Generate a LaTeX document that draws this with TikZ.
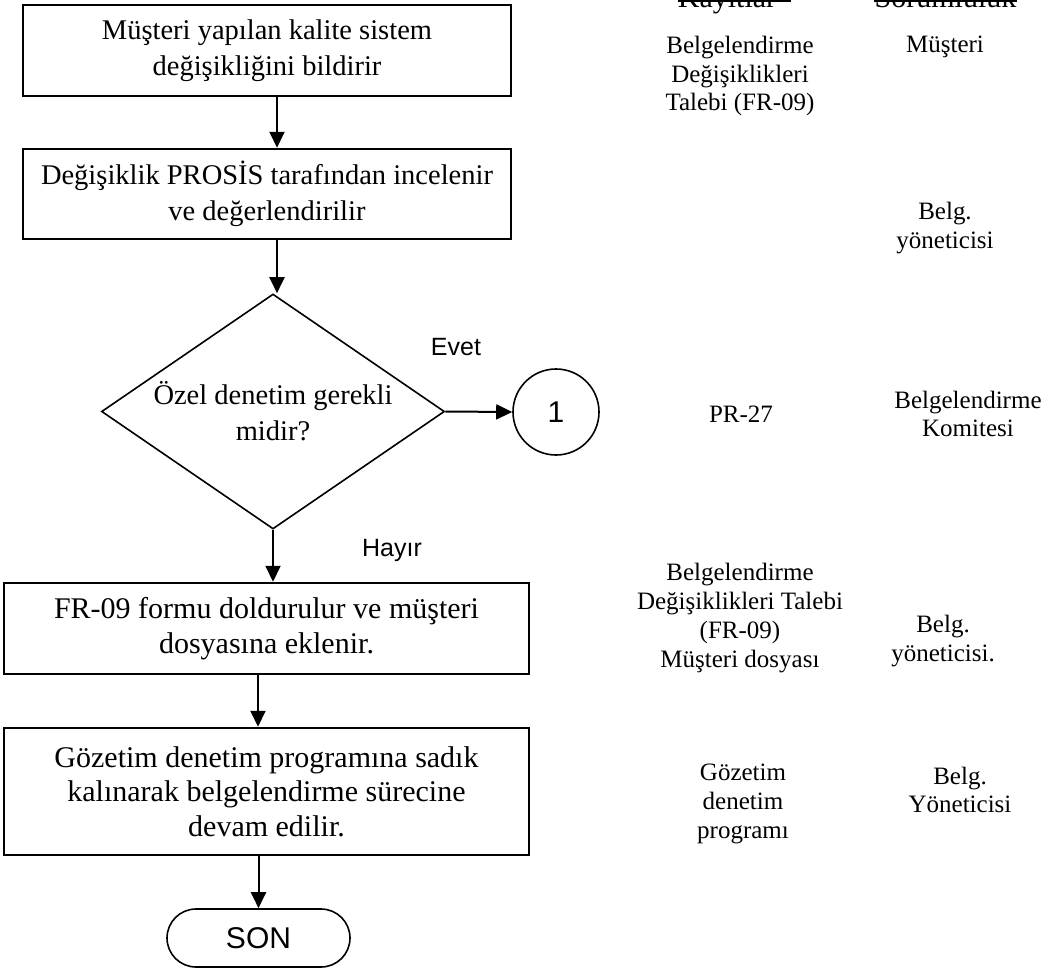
\documentclass[tikz,border=0pt]{standalone}
\usepackage{fontspec}
\setmainfont{Liberation Serif}
\newfontfamily\arialf{Liberation Sans}
\usetikzlibrary{arrows.meta,shapes.geometric}
\tikzset{
  box/.style={draw,line width=2.5pt,inner sep=0pt,align=center,
    font=\fontsize{28.5}{36}\selectfont},
  boxb/.style={box,font=\fontsize{30}{34.5}\selectfont},
  arr/.style={line width=2pt,-{Triangle[length=16pt,width=15pt]}},
  rtext/.style={inner sep=0pt,align=center,font=\fontsize{25}{28.75}\selectfont},
  head/.style={inner sep=0pt,anchor=base,font=\fontsize{30}{34}\selectfont},
  ulin/.style={line width=2pt},
  lab/.style={inner sep=0pt,font=\arialf\fontsize{25}{28}\selectfont},
}
\begin{document}
\begin{tikzpicture}[x=1pt,y=-1pt]
\useasboundingbox (0,0) rectangle (1042,969);
\clip (0,0) rectangle (1042,969);

% flow boxes
\node[box,minimum width=488pt,minimum height=91pt] (b1) at (267,50.5)
  {Müşteri yapılan kalite sistem\\değişikliğini bildirir};
\node[box,minimum width=488pt,minimum height=90pt] (b2) at (267,194)
  {Değişiklik PROSİS tarafından incelenir\\ve değerlendirilir};
\node[draw,diamond,line width=1.6pt,inner sep=0pt,minimum width=343pt,minimum height=235pt,
  label={[font=\fontsize{28.5}{36}\selectfont,align=center]center:Özel denetim gerekli\\midir?}]
  (dia) at (273,411.5) {};
\node[draw,circle,line width=1.6pt,minimum size=86pt,inner sep=0pt,
  font=\arialf\fontsize{30}{34}\selectfont] (c1) at (556,412) {1};
\node[boxb,minimum width=525pt,minimum height=91pt] (b3) at (266.5,628.5)
  {FR-09 formu doldurulur ve müşteri\\dosyasına eklenir.};
\node[boxb,minimum width=525pt,minimum height=127pt] (b4) at (266.5,791.5)
  {Gözetim denetim programına sadık\\kalınarak belgelendirme sürecine\\devam edilir.};
\node[draw,rectangle,rounded corners=29pt,line width=1.6pt,minimum width=183pt,minimum height=58pt,
  inner sep=0pt,font=\arialf\fontsize{30}{34}\selectfont] (son) at (258.5,938) {SON};

% connectors
\draw[arr] ([xshift=10pt]b1.south) -- ([xshift=10pt]b2.north);
\draw[arr] ([xshift=10pt]b2.south) -- ([xshift=10pt]b2.south |- dia.north);
\draw[arr] (dia.east) -- (c1.west);
\draw[arr] (dia.south) -- (dia.south |- b3.north);
\draw[arr] ([xshift=-8.5pt]b3.south) -- ([xshift=-8.5pt]b4.north);
\draw[arr] (son.north |- b4.south) -- (son.north);

\node[lab] (evet) at (456,347) {Evet};
\node[lab] (hayir) at (392,550) {Hayır};

% column headers
\node[head] (kh) at (727,7) {Kayıtlar};
\node[head] (sh) at (945.5,7) {Sorumluluk};
\draw[ulin] ([yshift=6pt]kh.base west) -- ([xshift=15pt,yshift=6pt]kh.base east);
\draw[ulin] ([yshift=6pt]sh.base west) -- ([yshift=6pt]sh.base east);

% right columns
\node[rtext] (r1) at (740,76) {Belgelendirme\\Değişiklikleri\\Talebi (FR-09)};
\node[rtext] (s1) at (945,47) {Müşteri};
\node[rtext] (s2) at (945,228) {Belg.\\yöneticisi};
\node[rtext] (r3) at (741,414) {PR-27};
\node[rtext] (s3) at (968,414) {Belgelendirme\\Komitesi};
\node[rtext] (r4) at (740,618) {Belgelendirme\\Değişiklikleri Talebi\\(FR-09)\\Müşteri dosyası};
\node[rtext] (s4) at (943,641) {Belg.\\yöneticisi.};
\node[rtext] (r5) at (743,804) {Gözetim\\denetim\\programı};
\node[rtext] (s5) at (960,790) {Belg.\\Yöneticisi};
\end{tikzpicture}
\end{document}
